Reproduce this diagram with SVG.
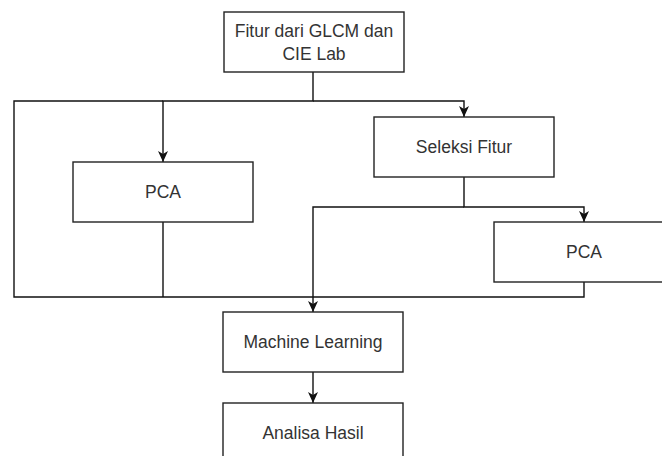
<svg xmlns="http://www.w3.org/2000/svg" width="662" height="456" viewBox="0 0 662 456">
<style>
.box{fill:#fff;stroke:#222;stroke-width:1.4}
.lbl{font-family:"Liberation Sans",Arial,sans-serif;font-size:17.5px;fill:#333;text-anchor:middle}
.edge{fill:none;stroke:#111;stroke-width:1.4}
</style>
<defs>
<marker id="arr" viewBox="0 0 11 10" markerWidth="11" markerHeight="10" refX="11" refY="5" orient="auto" markerUnits="userSpaceOnUse">
<path d="M0,0 L11,5 L0,10 L3,5 z" fill="#111"/>
</marker>
</defs>
<rect width="662" height="456" fill="#fff"/>
<g id="connectors">
<path class="edge" d="M313,72 V101 H163 V162" marker-end="url(#arr)"/>
<path class="edge" d="M313,101 H464 V117" marker-end="url(#arr)"/>
<path class="edge" d="M163,101 H14 V297 H584 V282"/>
<path class="edge" d="M163,222 V297"/>
<path class="edge" d="M464,177 V207 H584 V222" marker-end="url(#arr)"/>
<path class="edge" d="M464,207 H313 V312" marker-end="url(#arr)"/>
<path class="edge" d="M313,372 V403" marker-end="url(#arr)"/>
</g>
<g id="node-fitur">
<rect class="box" x="224" y="12" width="180" height="60"/>
<text class="lbl" x="314" y="36.5">Fitur dari GLCM dan</text>
<text class="lbl" x="314" y="60">CIE Lab</text>
</g>
<g id="node-seleksi">
<rect class="box" x="374" y="117" width="180" height="60"/>
<text class="lbl" x="464" y="153">Seleksi Fitur</text>
</g>
<g id="node-pca1">
<rect class="box" x="73" y="162" width="180" height="60"/>
<text class="lbl" x="163" y="198">PCA</text>
</g>
<g id="node-pca2">
<rect class="box" x="494" y="222" width="180" height="60"/>
<text class="lbl" x="584" y="258">PCA</text>
</g>
<g id="node-ml">
<rect class="box" x="223" y="312" width="180" height="60"/>
<text class="lbl" x="313" y="348">Machine Learning</text>
</g>
<g id="node-analisa">
<rect class="box" x="223" y="403" width="180" height="60"/>
<text class="lbl" x="313" y="439">Analisa Hasil</text>
</g>
</svg>
